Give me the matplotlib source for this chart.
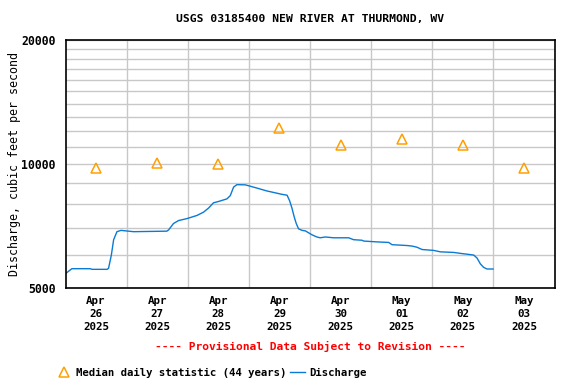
import matplotlib
matplotlib.use('Agg')
import matplotlib.pyplot as plt
from matplotlib.ticker import FixedLocator, FixedFormatter, NullFormatter

# hours since Apr 26 2025 00:00 and discharge (cfs)
hours = [0.2, 2.5, 9.7, 10.4, 16.3, 16.9, 18.0, 18.9, 20.2, 21.8, 26.7, 39.8, 40.5,
         42.4, 44.4, 47.7, 51.6, 54.2, 56.2, 58.1, 60.1, 63.4, 64.7, 66.0, 67.3, 70.6,
         75.2, 79.1, 81.7, 85.0, 87.0, 88.0, 88.9, 89.8, 90.6, 91.5, 92.9, 94.2, 95.4,
         96.8, 98.7, 100.0, 102.0, 105.3, 111.2, 113.1, 116.4, 117.1, 122.3, 126.9,
         128.2, 134.1, 136.1, 138.0, 140.0, 144.5, 147.2, 152.4, 155.7, 157.7, 160.3,
         161.6, 162.9, 164.2, 165.5, 167.9]
discharge = [5430, 5570, 5570, 5550, 5550, 5580, 6010, 6550, 6850, 6900, 6850, 6870, 6920,
             7170, 7290, 7370, 7500, 7640, 7820, 8050, 8110, 8230, 8380, 8790, 8910, 8900,
             8740, 8600, 8530, 8440, 8400, 8140, 7820, 7440, 7170, 6960, 6900, 6880, 6810,
             6730, 6650, 6620, 6650, 6620, 6620, 6550, 6530, 6500, 6470, 6450,
             6370, 6340, 6320, 6280, 6200, 6170, 6120, 6100, 6060, 6040, 6010,
             5910, 5720, 5610, 5560, 5560]

days = ['Apr\n26\n2025', 'Apr\n27\n2025', 'Apr\n28\n2025', 'Apr\n29\n2025',
        'Apr\n30\n2025', 'May\n01\n2025', 'May\n02\n2025', 'May\n03\n2025']
median = [9800, 10080, 10000, 12200, 11100, 11480, 11100, 9800]

plt.rcParams['font.family'] = 'DejaVu Sans Mono'
plt.rcParams['font.weight'] = 'bold'

fig = plt.figure(figsize=(5.76, 3.84), dpi=100)
ax = fig.add_axes([65.5 / 576, 96 / 384, 489 / 576, 248 / 384])

mid_hours = [12 + 24 * i for i in range(len(days))]
ax.plot(mid_hours, median, linestyle='none', marker='^', markersize=6.5,
        markerfacecolor='none', markeredgecolor='#ffa000', markeredgewidth=1.1,
        label='Median daily statistic (44 years)')
ax.plot(hours, discharge, color='#0a7ad4', linewidth=1.0, label='Discharge')

ax.set_yscale('log')
ax.set_ylim(5000, 20000)
ax.set_xlim(0, 24 * 8)
ax.yaxis.set_major_locator(FixedLocator([5000, 10000, 20000]))
ax.yaxis.set_major_formatter(FixedFormatter(['5000', '10000', '20000']))
ax.yaxis.set_minor_locator(FixedLocator([6000, 7000, 8000, 9000] + list(range(11000, 20000, 1000))))
ax.yaxis.set_minor_formatter(NullFormatter())

ax.set_xticks(mid_hours)
ax.set_xticklabels(days, fontsize=7.8, linespacing=1.35)
ax.set_xticks([24 * i for i in range(1, 8)], minor=True)

ax.yaxis.grid(True, which='both', color='#c8c8c8', linewidth=1.0)
ax.xaxis.grid(True, which='minor', color='#c8c8c8', linewidth=1.0)
ax.xaxis.grid(False, which='major')
ax.tick_params(which='both', length=0)
ax.tick_params(axis='x', pad=6)
ax.tick_params(axis='y', labelsize=8.3, pad=7)
for s in ax.spines.values():
    s.set_linewidth(1.2)

ax.set_ylabel('Discharge, cubic feet per second', fontsize=8.4)
ax.yaxis.set_label_coords(-0.09, 0.5)
fig.text(310 / 576, 1 - 19 / 384, 'USGS 03185400 NEW RIVER AT THURMOND, WV',
         ha='center', va='center', fontsize=8.2)
fig.text(310 / 576, 1 - 346 / 384, '---- Provisional Data Subject to Revision ----',
         ha='center', va='center', fontsize=8.1, color='red')

fig.legend(loc='center left', bbox_to_anchor=(52 / 576, 1 - 373 / 384), ncol=2,
           frameon=False, fontsize=7.7, handlelength=1.4, handletextpad=0.4,
           columnspacing=0.4, borderaxespad=0)

fig.savefig('out.png', dpi=100)
